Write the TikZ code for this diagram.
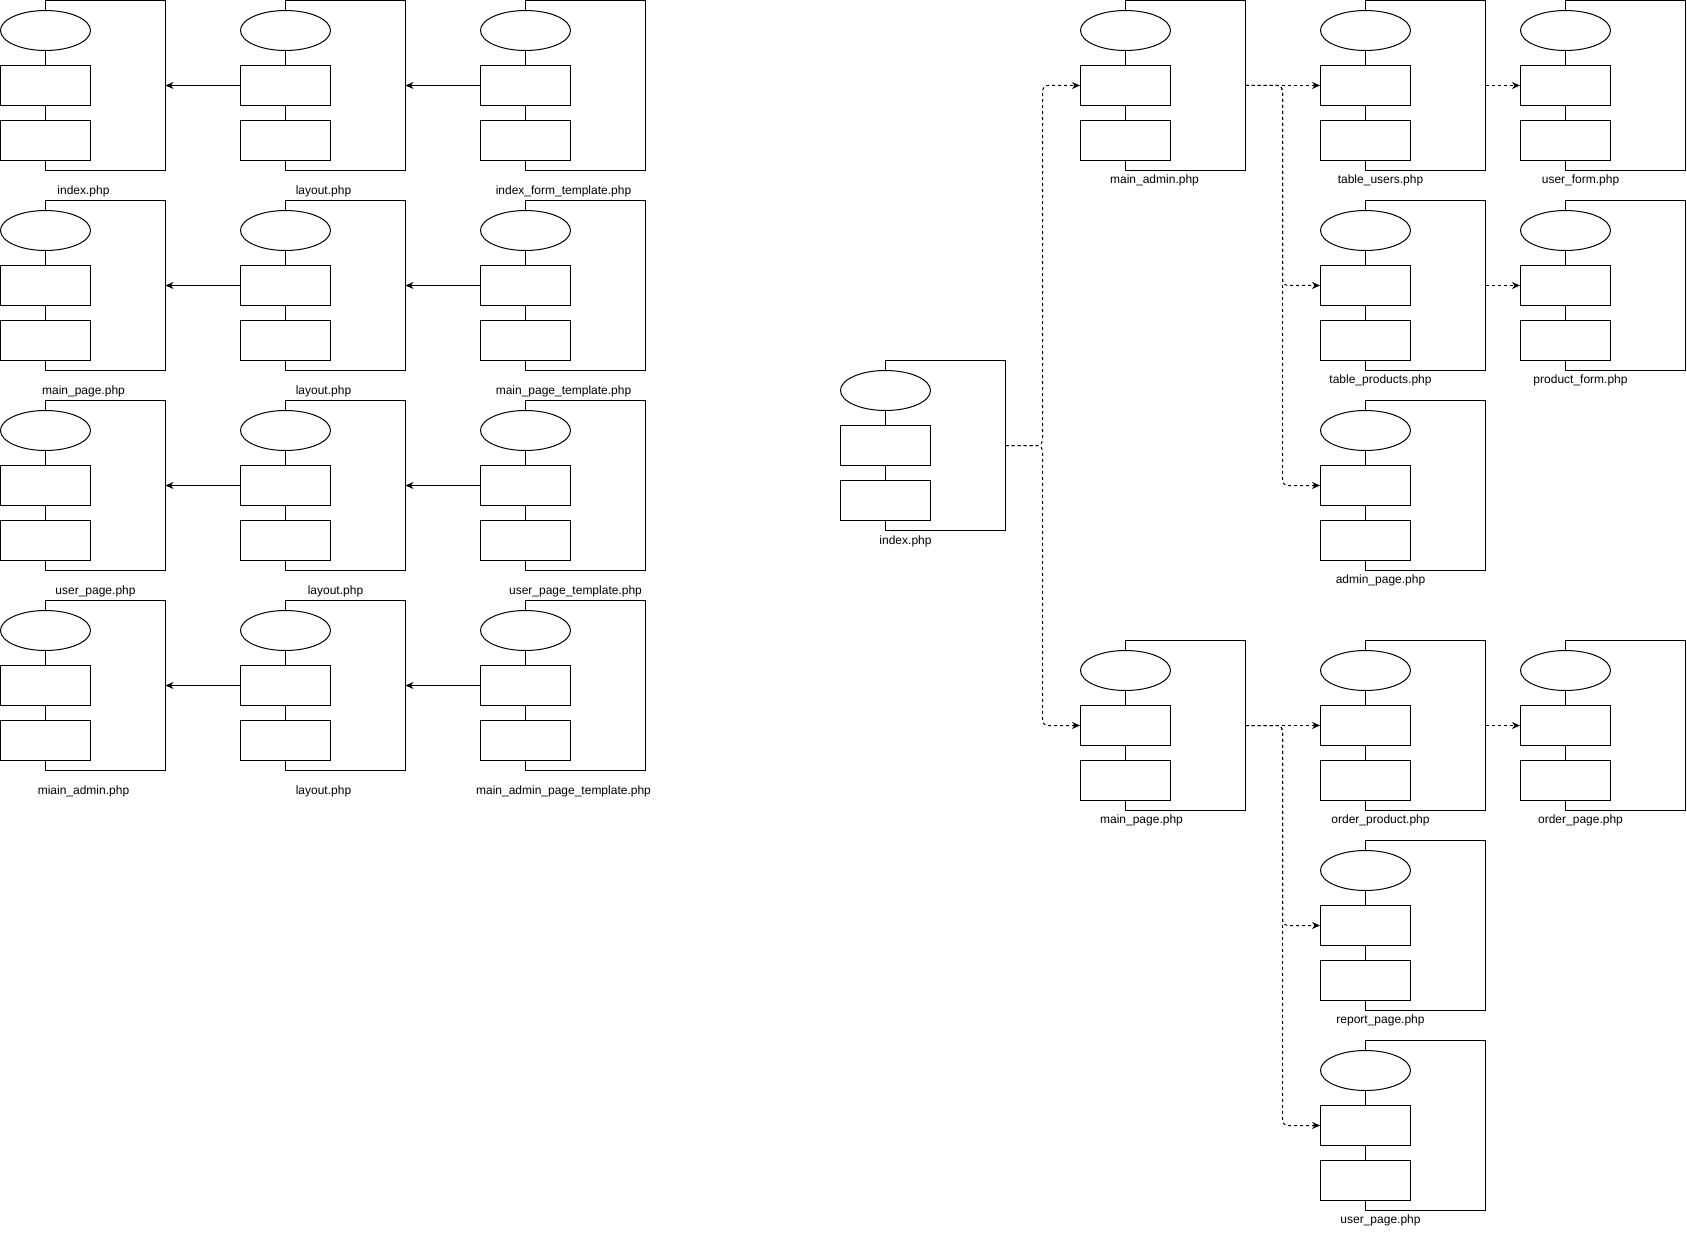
\documentclass[tikz,border=0pt]{standalone}
\usepackage{fontspec}
\setmainfont{Liberation Sans}
\usetikzlibrary{shapes.geometric,arrows.meta}
\tikzset{
  frame/.style={draw=black,line width=1pt},
  oval/.style={draw=black,line width=1pt,ellipse,minimum width=90pt,minimum height=40pt,inner sep=0pt},
  box/.style={draw=black,line width=1pt,rectangle,minimum width=90pt,minimum height=40pt,inner sep=0pt},
  link/.style={line width=1pt},
  lbl/.style={font=\fontsize{12}{14}\selectfont,inner sep=0pt},
  arr/.style={line width=1pt,-{Stealth[length=8pt,width=7pt]}},
  darr/.style={line width=1pt,dash pattern=on 3pt off 3pt,rounded corners=5pt,-{Stealth[length=8pt,width=7pt]}},
}
\newcommand\comp[6]{%
\begin{scope}[shift={(#2,#3)}]
\draw[frame] (45,10) -- (45,0) -- (165,0) -- (165,170) -- (45,170) -- (45,160);
\node[oval] (#1-e) at (45,30) {};
\node[box] (#1-a) at (45,85) {};
\node[box] (#1-b) at (45,140) {};
\draw[link] (#1-e) -- (#1-a);
\draw[link] (#1-a) -- (#1-b);
\coordinate (#1-f) at (165,85);
\node[lbl] (#1-l) at (#5,#6) {#4};
\end{scope}}
\begin{document}
\begin{tikzpicture}[x=1pt,y=-1pt]
\useasboundingbox[fill=white] (0,0) rectangle (1687,1241);
\begin{scope}[shift={(0.5,0.5)}]
% left side
\comp{a1}{0}{0}{index.php}{83}{191}
\comp{b1}{240}{0}{layout.php}{83}{191}
\comp{c1}{480}{0}{index\_form\_template.php}{83}{191}
\comp{a2}{0}{200}{main\_page.php}{83}{191}
\comp{b2}{240}{200}{layout.php}{83}{191}
\comp{c2}{480}{200}{main\_page\_template.php}{83}{191}
\comp{a3}{0}{400}{user\_page.php}{95}{191}
\comp{b3}{240}{400}{layout.php}{95}{191}
\comp{c3}{480}{400}{user\_page\_template.php}{95}{191}
\comp{a4}{0}{600}{miain\_admin.php}{83}{191}
\comp{b4}{240}{600}{layout.php}{83}{191}
\comp{c4}{480}{600}{main\_admin\_page\_template.php}{83}{191}
\foreach \r in {1,2,3,4}{
  \draw[arr] (b\r-a.west) -- (a\r-f);
  \draw[arr] (c\r-a.west) -- (b\r-f);
}
% right side
\comp{ri}{840}{360}{index.php}{65}{181}
\comp{ma}{1080}{0}{main\_admin.php}{74}{180}
\comp{tu}{1320}{0}{table\_users.php}{60}{180}
\comp{uf}{1520}{0}{user\_form.php}{60}{180}
\comp{tp}{1320}{200}{table\_products.php}{60}{180}
\comp{pf}{1520}{200}{product\_form.php}{60}{180}
\comp{ap}{1320}{400}{admin\_page.php}{60}{180}
\comp{mp}{1080}{640}{main\_page.php}{61}{180}
\comp{op}{1320}{640}{order\_product.php}{60}{180}
\comp{og}{1520}{640}{order\_page.php}{60}{180}
\comp{rp}{1320}{840}{report\_page.php}{60}{180}
\comp{up}{1320}{1040}{user\_page.php}{60}{180}
\coordinate (j1) at (1042,445);
\coordinate (j2) at (1282,85);
\coordinate (j3) at (1282,725);
\draw[darr] (ri-f) -- (j1) |- (ma-a.west);
\draw[darr] (ri-f) -- (j1) |- (mp-a.west);
\draw[darr] (ma-f) -- (tu-a.west);
\draw[darr] (ma-f) -- (j2) |- (tp-a.west);
\draw[darr] (ma-f) -- (j2) |- (ap-a.west);
\draw[darr] (tu-f) -- (uf-a.west);
\draw[darr] (tp-f) -- (pf-a.west);
\draw[darr] (mp-f) -- (op-a.west);
\draw[darr] (mp-f) -- (j3) |- (rp-a.west);
\draw[darr] (mp-f) -- (j3) |- (up-a.west);
\draw[darr] (op-f) -- (og-a.west);
\end{scope}
\end{tikzpicture}
\end{document}
